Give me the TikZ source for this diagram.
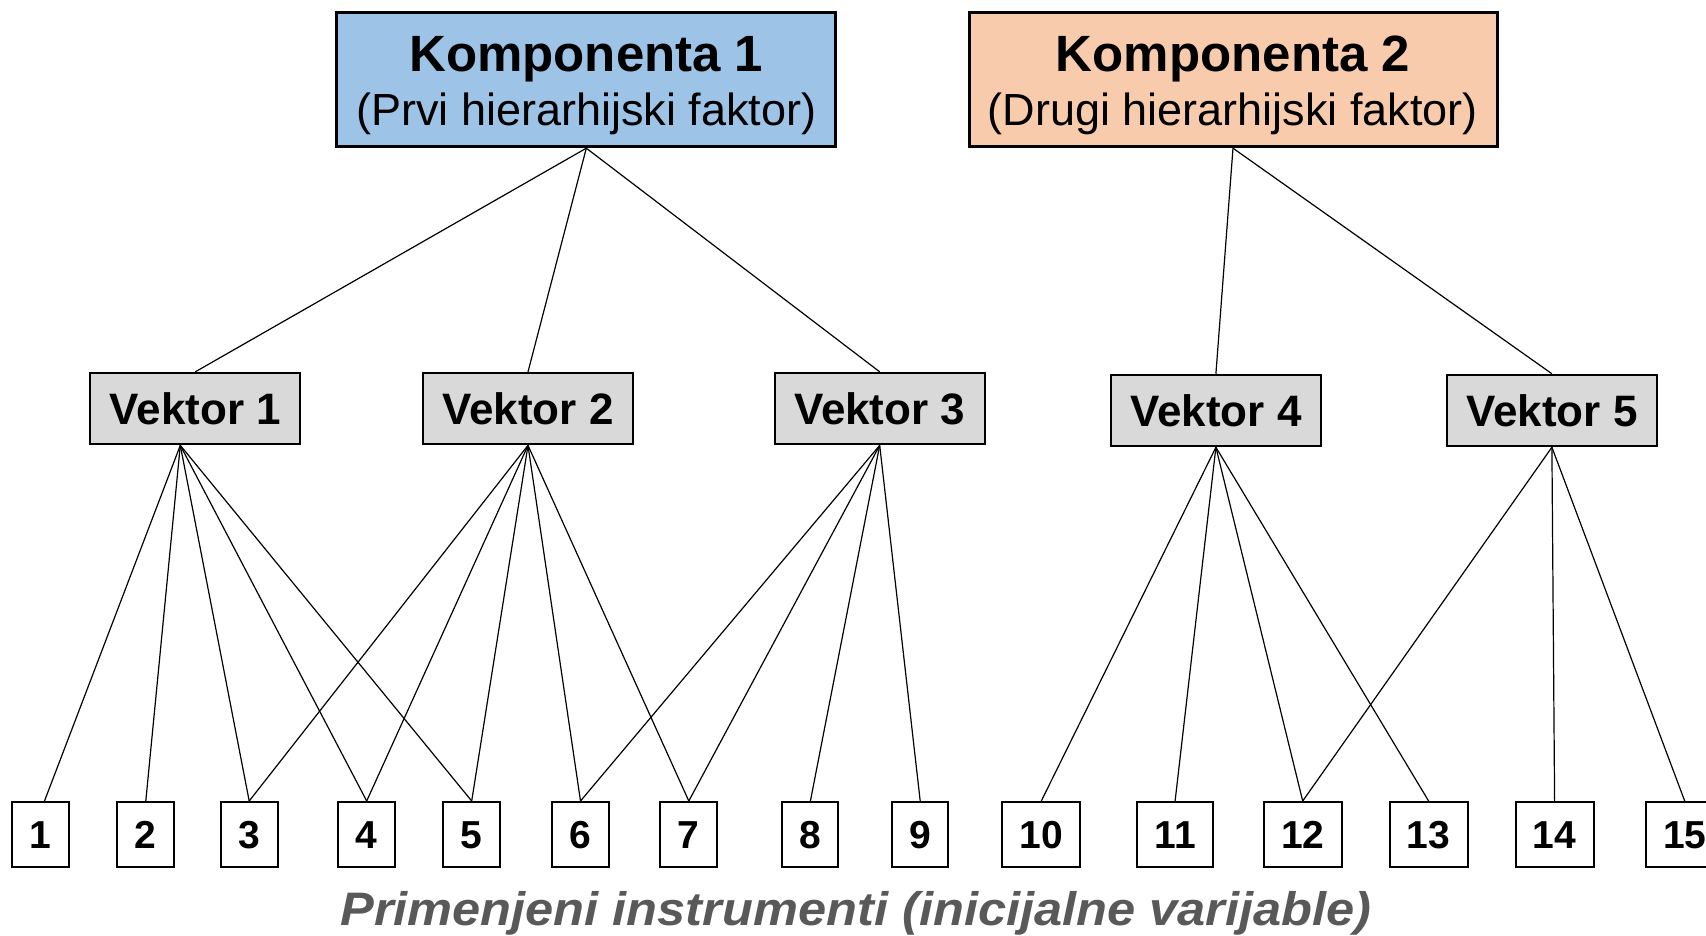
\documentclass[tikz,border=0pt]{standalone}
\usepackage{fontspec}
\setmainfont{Liberation Sans}
\definecolor{kblue}{HTML}{9DC3E6}
\definecolor{kpeach}{HTML}{F8CBAD}
\definecolor{vgray}{HTML}{D9D9D9}
\definecolor{capgray}{HTML}{595959}
\begin{document}
\begin{tikzpicture}[x=1pt,y=-1pt,
  kbox/.style={draw, line width=3pt, minimum height=134pt, align=center, inner sep=0pt},
  vbox/.style={draw, line width=2pt, fill=vgray, minimum width=210pt, minimum height=71.5pt, inner sep=0pt, font=\fontsize{44}{44}\selectfont\bfseries},
  nbox/.style={draw, line width=2pt, minimum height=65pt, minimum width=57pt, inner sep=0pt, text height=28pt, text depth=0pt, font=\fontsize{39}{39}\selectfont\bfseries},
  wide/.style={minimum width=78pt},
  link/.style={line width=1.2pt}]
\useasboundingbox (0,0) rectangle (1706,936);
% components
\node[kbox, fill=kblue, minimum width=499pt] (k1) at (586.3,79.7)
  {\fontsize{51}{51}\selectfont\bfseries\rule{0pt}{47.5pt}Komponenta 1\\[10pt]\fontsize{45}{45}\selectfont (Prvi hierarhijski faktor)};
\node[kbox, fill=kpeach, minimum width=528pt] (k2) at (1233,79.7)
  {\fontsize{51}{51}\selectfont\bfseries\rule{0pt}{47.5pt}Komponenta 2\\[10pt]\fontsize{45}{45}\selectfont (Drugi hierarhijski faktor)};
% vectors
\node[vbox] (v1) at (195.3,408.6) {Vektor 1};
\node[vbox] (v2) at (528,408.6) {Vektor 2};
\node[vbox] (v3) at (879.7,408.6) {Vektor 3};
\node[vbox] (v4) at (1215.9,410.5) {Vektor 4};
\node[vbox] (v5) at (1551.9,410.5) {Vektor 5};
% items
\node[nbox] (n1) at (40.5,834.5) {1};
\node[nbox] (n2) at (145.8,834.5) {2};
\node[nbox] (n3) at (249.2,834.5) {3};
\node[nbox] (n4) at (366.7,834.5) {4};
\node[nbox] (n5) at (471.7,834.5) {5};
\node[nbox] (n6) at (580.5,834.5) {6};
\node[nbox] (n7) at (688.8,834.5) {7};
\node[nbox, minimum width=56pt] (n8) at (810.4,834.5) {8};
\node[nbox, minimum width=56pt] (n9) at (920.2,834.5) {9};
\node[nbox, wide] (n10) at (1041.3,834.5) {10};
\node[nbox, minimum width=76pt] (n11) at (1175.1,834.5) {11};
\node[nbox, wide] (n12) at (1302.7,834.5) {12};
\node[nbox, wide] (n13) at (1428.6,834.5) {13};
\node[nbox, wide] (n14) at (1554.6,834.5) {14};
\node[nbox, wide] (n15) at (1684.7,834.5) {15};
% caption
\node[anchor=base, text=capgray, font=\fontsize{47}{47}\selectfont\bfseries\itshape, inner sep=0pt] (cap) at (856,925)
  {\scalebox{1.076}[1]{Primenjeni instrumenti (inicijalne varijable)}};
% hubs
\coordinate (h1) at ([xshift=-15pt]v1.south);
\coordinate (t1) at ([xshift=4pt]n1.north);
% connectors
\foreach \v in {v1,v2,v3} \draw[link] (k1.south) -- (\v.north);
\foreach \v in {v4,v5} \draw[link] (k2.south) -- (\v.north);
\draw[link] (h1) -- (t1);
\foreach \n in {n2,n3,n4,n5} \draw[link] (h1) -- (\n.north);
\foreach \n in {n3,n4,n5,n6,n7} \draw[link] (v2.south) -- (\n.north);
\foreach \n in {n6,n7,n8,n9} \draw[link] (v3.south) -- (\n.north);
\foreach \n in {n10,n11,n12,n13} \draw[link] (v4.south) -- (\n.north);
\foreach \n in {n12,n14,n15} \draw[link] (v5.south) -- (\n.north);
\end{tikzpicture}
\end{document}
